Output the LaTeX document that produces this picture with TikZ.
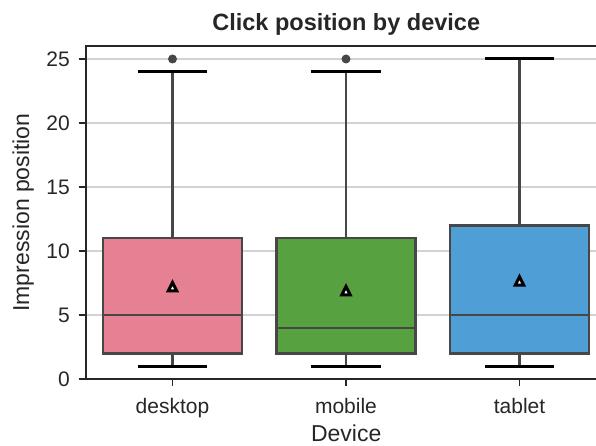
\documentclass[tikz,border=0pt]{standalone}
\usepackage{fontspec}
\setmainfont{Liberation Sans}
\definecolor{deskpink}{HTML}{E68093}
\definecolor{mobgreen}{HTML}{58A140}
\definecolor{tabblue}{HTML}{4F9ED6}
\definecolor{boxgray}{HTML}{474747}
\definecolor{spinegray}{HTML}{262626}
\definecolor{gridgray}{HTML}{D2D2D2}

\begin{document}
\begin{tikzpicture}[x=1pt,y=1pt,
		gridline/.style={gridgray, line width=1.1},
		spine/.style={spinegray, line width=1.6},
		tickline/.style={spinegray, line width=1.4},
		boxline/.style={boxgray, line width=2.4},
		capline/.style={black, line width=3},
		flier/.style={circle, fill=boxgray, minimum size=9},
		meantri/.style={black, fill=white, line width=3},
		ticklabel/.style={text=spinegray, font=\fontsize{21}{24}\selectfont},
		axislabel/.style={text=spinegray, font=\fontsize{23}{27}\selectfont},
		titlelabel/.style={text=spinegray, font=\fontsize{23.5}{28}\selectfont\bfseries}]
			\tikzstyle{every node}+=[inner sep=0pt]
			\useasboundingbox (0,0) rectangle (596,-446);
			\draw [gridline] (85.75,-315) -- (596,-315);
			\draw [gridline] (85.75,-251) -- (596,-251);
			\draw [gridline] (85.75,-187) -- (596,-187);
			\draw [gridline] (85.75,-123) -- (596,-123);
			\draw [gridline] (85.75,-59) -- (596,-59);
			\draw [boxline] (172.5,-238.2) -- (172.5,-71.8);
			\draw [boxline] (172.5,-353.4) -- (172.5,-366.2);
			\draw [capline] (137.8,-71.8) -- (207.2,-71.8);
			\draw [capline] (137.8,-366.2) -- (207.2,-366.2);
			\draw [boxline, fill=deskpink] (103.1,-353.4) rectangle (241.9,-238.2);
			\draw [boxline] (103.1,-315) -- (241.9,-315);
			\draw [boxline] (346,-238.2) -- (346,-71.8);
			\draw [boxline] (346,-353.4) -- (346,-366.2);
			\draw [capline] (311.3,-71.8) -- (380.7,-71.8);
			\draw [capline] (311.3,-366.2) -- (380.7,-366.2);
			\draw [boxline, fill=mobgreen] (276.6,-353.4) rectangle (415.4,-238.2);
			\draw [boxline] (276.6,-327.8) -- (415.4,-327.8);
			\draw [boxline] (519.5,-225.4) -- (519.5,-59);
			\draw [boxline] (519.5,-353.4) -- (519.5,-366.2);
			\draw [capline] (484.8,-59) -- (554.2,-59);
			\draw [capline] (484.8,-366.2) -- (554.2,-366.2);
			\draw [boxline, fill=tabblue] (450.1,-353.4) rectangle (588.9,-225.4);
			\draw [boxline] (450.1,-315) -- (588.9,-315);
			\coordinate (mdesk) at (172.5,-286.7);
			\coordinate (mmob) at (346,-290.7);
			\coordinate (mtab) at (519.5,-281);
			\draw [meantri] (mdesk) ++(0,4.2) -- ++(-4.2,-8.4) -- ++(8.4,0) -- cycle;
			\draw [meantri] (mmob) ++(0,4.2) -- ++(-4.2,-8.4) -- ++(8.4,0) -- cycle;
			\draw [meantri] (mtab) ++(0,4.2) -- ++(-4.2,-8.4) -- ++(8.4,0) -- cycle;
			\node [flier] (fdesk) at (172.5,-59) {};
			\node [flier] (fmob) at (346,-59) {};
			\draw [spine] (596,-46.2) -- (85.75,-46.2) -- (85.75,-379) -- (596,-379);
			\draw [tickline] (78.5,-379) -- (85.75,-379);
			\draw [tickline] (78.5,-315) -- (85.75,-315);
			\draw [tickline] (78.5,-251) -- (85.75,-251);
			\draw [tickline] (78.5,-187) -- (85.75,-187);
			\draw [tickline] (78.5,-123) -- (85.75,-123);
			\draw [tickline] (78.5,-59) -- (85.75,-59);
			\draw [tickline] (172.5,-379) -- (172.5,-386);
			\draw [tickline] (346,-379) -- (346,-386);
			\draw [tickline] (519.5,-379) -- (519.5,-386);
			\node [ticklabel, anchor=east] (y0) at (70,-379) {0};
			\node [ticklabel, anchor=east] (y5) at (70,-315) {5};
			\node [ticklabel, anchor=east] (y10) at (70,-251) {10};
			\node [ticklabel, anchor=east] (y15) at (70,-187) {15};
			\node [ticklabel, anchor=east] (y20) at (70,-123) {20};
			\node [ticklabel, anchor=east] (y25) at (70,-59) {25};
			\node [ticklabel, anchor=base] (xdesk) at (172.5,-413) {desktop};
			\node [ticklabel, anchor=base] (xmob) at (346,-413) {mobile};
			\node [ticklabel, anchor=base] (xtab) at (519.5,-413) {tablet};
			\node [axislabel, anchor=base] (xlab) at (346.25,-441.5) {Device};
			\node [axislabel, anchor=base, rotate=90] (ylab) at (29,-212.6) {Impression position};
			\node [titlelabel, anchor=base] (title) at (346.25,-31) {Click position by device};
		\end{tikzpicture}
\end{document}
